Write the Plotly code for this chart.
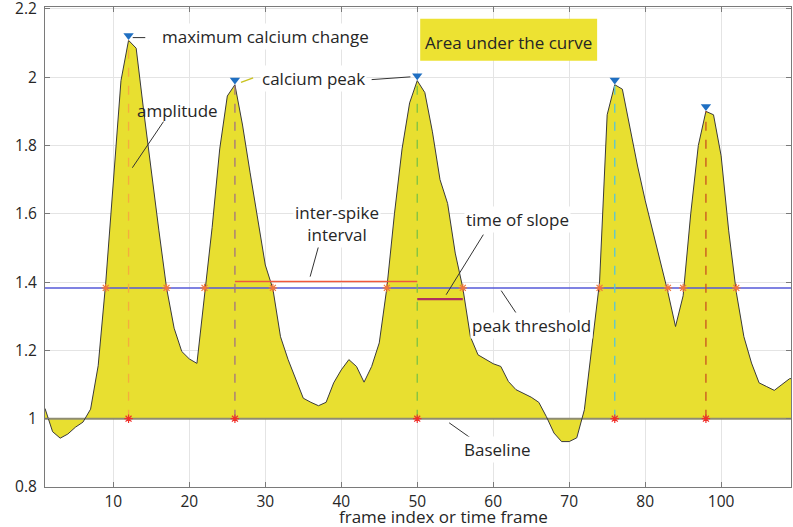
import plotly.graph_objects as go

# ---------------- data ----------------
frames = list(range(1, 101))
signal = [
    1.03, 0.962, 0.943, 0.955, 0.975, 0.99, 1.028, 1.155, 1.40, 1.70,
    1.99, 2.108, 2.085, 1.90, 1.72, 1.55, 1.383, 1.265, 1.197, 1.175,
    1.162, 1.37, 1.56, 1.79, 1.945, 1.978, 1.86, 1.72, 1.585, 1.45,
    1.38, 1.24, 1.173, 1.114, 1.06, 1.048, 1.038, 1.048, 1.105, 1.143,
    1.173, 1.153, 1.107, 1.153, 1.222, 1.383, 1.60, 1.79, 1.925, 1.99,
    1.955, 1.84, 1.70, 1.63, 1.485, 1.383, 1.24, 1.187, 1.173, 1.161,
    1.153, 1.109, 1.085, 1.075, 1.063, 1.048, 1.006, 0.958, 0.933, 0.933,
    0.944, 1.026, 1.222, 1.40, 1.89, 1.978, 1.965, 1.85, 1.74, 1.64,
    1.55, 1.46, 1.37, 1.27, 1.36, 1.60, 1.80, 1.90, 1.89, 1.77,
    1.55, 1.37, 1.24, 1.163, 1.105, 1.094, 1.083, 1.10, 1.117, 1.12,
]
baseline = 1.0
threshold = 1.383
peak_frames = [12, 26, 50, 76, 88]
peak_colors = ["#F5AE3C", "#A27380", "#7CC243", "#57C4D8", "#C9521F"]
crossing_frames = [9, 17, 22, 31, 46, 56, 74, 83, 85, 92]
isi_frames = [26, 50]
isi_level = 1.402
slope_frames = [50, 56]
slope_level = 1.35
x_tickvals = [10, 20, 30, 40, 50, 60, 70, 80, 90]
x_ticktext = ["10", "20", "30", "40", "50", "60", "70", "80", "100"]
y_tickvals = [0.8, 1.0, 1.2, 1.4, 1.6, 1.8, 2.0, 2.2]
y_ticktext = ["0.8", "1", "1.2", "1.4", "1.6", "1.8", "2", "2.2"]

peak_values = [signal[frames.index(f)] for f in peak_frames]

YELLOW = "#E8DF30"
TXT = "#262626"
FONT = "Open Sans"

fig = go.Figure()

# baseline + filled area under the curve
fig.add_trace(go.Scatter(x=frames, y=[baseline] * len(frames), mode="lines",
                         line=dict(color="#8E8C72", width=2), hoverinfo="skip"))
fig.add_trace(go.Scatter(x=frames, y=signal, mode="lines", fill="tonexty",
                         fillcolor=YELLOW, line=dict(color="#3a3a3a", width=1)))

# peak threshold
fig.add_trace(go.Scatter(x=[frames[0], frames[-1]], y=[threshold, threshold], mode="lines",
                         line=dict(color="#5558D8", width=1.5)))

# inter-spike interval and time of slope
fig.add_trace(go.Scatter(x=isi_frames, y=[isi_level] * 2, mode="lines",
                         line=dict(color="#F0583C", width=1.5)))
fig.add_trace(go.Scatter(x=slope_frames, y=[slope_level] * 2, mode="lines",
                         line=dict(color="#B0305E", width=2.2)))

# dashed amplitude lines
for f, v, c in zip(peak_frames, peak_values, peak_colors):
    fig.add_trace(go.Scatter(x=[f, f], y=[baseline, v], mode="lines",
                             line=dict(color=c, width=1.3, dash="dash")))

# asterisks at baseline
fig.add_trace(go.Scatter(x=peak_frames, y=[baseline] * len(peak_frames), mode="markers",
                         marker=dict(symbol="asterisk-open", size=7, color="#F0302A",
                                     line=dict(color="#F0302A", width=1.2))))
# asterisks at threshold crossings
fig.add_trace(go.Scatter(x=crossing_frames, y=[threshold] * len(crossing_frames), mode="markers",
                         marker=dict(symbol="asterisk-open", size=7, color="#F2763A",
                                     line=dict(color="#F2763A", width=1.2))))
# peak markers
fig.add_trace(go.Scatter(x=peak_frames, y=[v + 0.014 for v in peak_values], mode="markers",
                         marker=dict(symbol="triangle-down", size=9, color="#1F6FC2")))

# --------- annotations ---------
def txt(x, y, s, xanchor="left", bg="white"):
    fig.add_annotation(x=x, y=y, text=s, showarrow=False, xanchor=xanchor, yanchor="middle",
                       font=dict(family=FONT, size=17, color=TXT), bgcolor=bg, borderpad=1)

def leader(x0, y0, x1, y1, color="#333333", width=1):
    fig.add_shape(type="line", x0=x0, y0=y0, x1=x1, y1=y1, line=dict(color=color, width=width))

leader(12.55, 2.116, 14.2, 2.116)
txt(16.2, 2.119, "maximum calcium change")

leader(26.8, 1.985, 28.4, 1.998, color="#C9C21E", width=1.5)
txt(29.3, 1.996, "calcium peak")
leader(44.0, 1.993, 49.1, 2.001)

txt(12.9, 1.902, "amplitude", bg="rgba(0,0,0,0)")
leader(16.6, 1.870, 12.5, 1.735)

fig.add_shape(type="rect", x0=50.39, x1=73.68, y0=2.048, y1=2.171,
              fillcolor="#EDE232", line=dict(width=0))
txt(62.0, 2.101, "Area under the curve", xanchor="center", bg="rgba(0,0,0,0)")

fig.add_annotation(x=39.4, y=1.571, text="inter-spike<br>interval", showarrow=False,
                   xanchor="center", yanchor="middle", align="center",
                   font=dict(family=FONT, size=17, color=TXT), bgcolor="white", borderpad=1)
leader(37.0, 1.504, 35.9, 1.416)

txt(56.2, 1.583, "time of slope")
leader(58.7, 1.539, 53.8, 1.363)

txt(56.9, 1.272, "peak threshold")
leader(61.05, 1.375, 63.3, 1.300)

txt(55.9, 0.909, "Baseline")
leader(54.2, 0.988, 57.0, 0.944)

fig.add_annotation(x=0.534, y=-0.061, xref="paper", yref="paper", text="frame index or time frame",
                   showarrow=False, xanchor="center", yanchor="middle",
                   font=dict(family=FONT, size=17, color=TXT))

axis_common = dict(showgrid=True, gridcolor="#E4E4E4", gridwidth=1, showline=True,
                   linecolor="#7A7A7A", linewidth=1, mirror="ticks", ticks="inside",
                   ticklen=5, tickcolor="#7A7A7A", zeroline=False, automargin=False,
                   ticklabeloverflow="allow",
                   tickfont=dict(family=FONT, size=15.5, color=TXT))

fig.update_layout(
    width=793, height=527,
    margin=dict(l=45, r=2, t=7, b=40, autoexpand=False),
    paper_bgcolor="white", plot_bgcolor="white",
    showlegend=False,
    xaxis=dict(range=[1, 99.2], tickvals=x_tickvals, ticktext=x_ticktext, **axis_common),
    yaxis=dict(range=[0.8, 2.2056], tickvals=y_tickvals, ticktext=y_ticktext,
               ticklabelstandoff=4, **axis_common),
)

fig.write_html("out.html", config={"displayModeBar": False},
               post_script="document.body.style.margin='0';document.body.style.overflow='hidden';")
